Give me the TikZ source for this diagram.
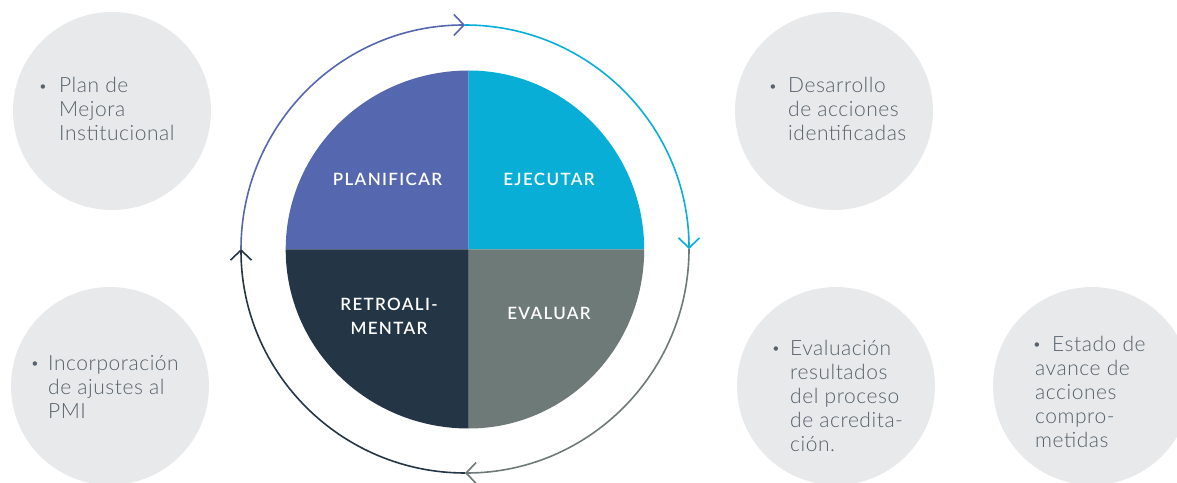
\documentclass[tikz,border=0pt]{standalone}
\usepackage{fontspec}
\usetikzlibrary{arrows.meta}
\setmainfont{Lato}
\IfFontExistsTF{Lato Light}{\newfontfamily\bodyfont{Lato Light}[LetterSpace=2.5]}{\newfontfamily\bodyfont{Lato}[LetterSpace=2.5]}
\IfFontExistsTF{Lato Semibold}{\newfontfamily\labelfont{Lato Semibold}[LetterSpace=8]\newcommand\lblfont{\labelfont}}{\newfontfamily\labelfont{Lato}[LetterSpace=8]\newcommand\lblfont{\labelfont\bfseries}}
\definecolor{cplan}{HTML}{5567AE}
\definecolor{cejec}{HTML}{08AED5}
\definecolor{ceval}{HTML}{6E7A78}
\definecolor{cretro}{HTML}{243645}
\definecolor{cbg}{HTML}{E8E9EA}
\definecolor{ctext}{HTML}{56616C}
\begin{document}
\begin{tikzpicture}[x=1pt,y=1pt,
  bubble/.style={circle, fill=cbg, minimum size=198pt, inner sep=0},
  body/.style={anchor=base west, inner sep=0, text=ctext, font=\bodyfont\fontsize{21}{24}\selectfont},
  bul/.style={anchor=base, inner sep=0, text=ctext, font=\bodyfont\fontsize{15}{24}\selectfont},
  qlabel/.style={text=white, align=center, inner sep=0, font=\lblfont\fontsize{17}{24}\selectfont},
  ring/.style={line width=1.6pt, -{Straight Barb[length=10pt,width=21pt]}}]
\useasboundingbox (0,0) rectangle (1177,482);
% background bubbles
\node[bubble] (b1) at (112,371) {};
\node[bubble] (b2) at (110,96) {};
\node[bubble] (b3) at (834,371) {};
\node[bubble] (b4) at (836,96) {};
\node[bubble] (b5) at (1092,96) {};
% bubble texts
\node[bul] (u1) at (43,390.5) {•};
\node[body] (t1) at (59,389) {\parbox[t]{160pt}{\raggedright Plan de\\Mejora\\Institucional}};
\node[bul] (u2) at (35,113.5) {•};
\node[body] (t2) at (48,112) {\parbox[t]{160pt}{\raggedright Incorporación\\de ajustes al\\PMI}};
\node[bul] (u3) at (773,390.5) {•};
\node[body] (t3) at (788,389) {\parbox[t]{160pt}{\raggedright Desarrollo\\de acciones\\identificadas}};
\node[bul] (u4) at (776,128.5) {•};
\node[body] (t4) at (790,127) {\parbox[t]{160pt}{\raggedright Evaluación\\resultados\\del proceso\\de acredita-\\ción.}};
\node[bul] (u5) at (1037,132.5) {•};
\node[body] (t5) at (1035,131) {\parbox[t]{160pt}{\raggedright\hspace*{17pt}Estado de\\avance de\\acciones\\compro-\\metidas}};
% pie
\coordinate (pc) at (468.7,232.5);
\fill[cplan] (pc) -- ++(-183,0) arc[start angle=180,end angle=90,x radius=183,y radius=179] -- cycle;
\fill[cejec] (pc) -- ++(0,179) arc[start angle=90,end angle=0,x radius=175.5,y radius=179] -- cycle;
\fill[ceval] (pc) -- ++(175.5,0) arc[start angle=0,end angle=-90,x radius=175.5,y radius=179] -- cycle;
\fill[cretro] (pc) -- ++(0,-179) arc[start angle=-90,end angle=-180,x radius=183,y radius=179] -- cycle;
\node[qlabel] (lplan) at (387.5,303) {PLANIFICAR};
\node[qlabel] (lejec) at (549,303) {EJECUTAR};
\node[qlabel] (lretro) at (389,166) {RETROALI-\\MENTAR};
\node[qlabel] (leval) at (549,168.3) {EVALUAR};
% ring
\coordinate (rtop) at (465,457);
\coordinate (rright) at (689,233);
\coordinate (rbot) at (465,9);
\coordinate (rleft) at (241,233);
\draw[ring, cplan] (rleft) arc[start angle=180, end angle=90, radius=224];
\draw[ring, cejec] (rtop) arc[start angle=90, end angle=0, radius=224];
\draw[ring, ceval] (rright) arc[start angle=0, end angle=-90, radius=224];
\draw[ring, cretro] (rbot) arc[start angle=-90, end angle=-180, radius=224];
\end{tikzpicture}
\end{document}
